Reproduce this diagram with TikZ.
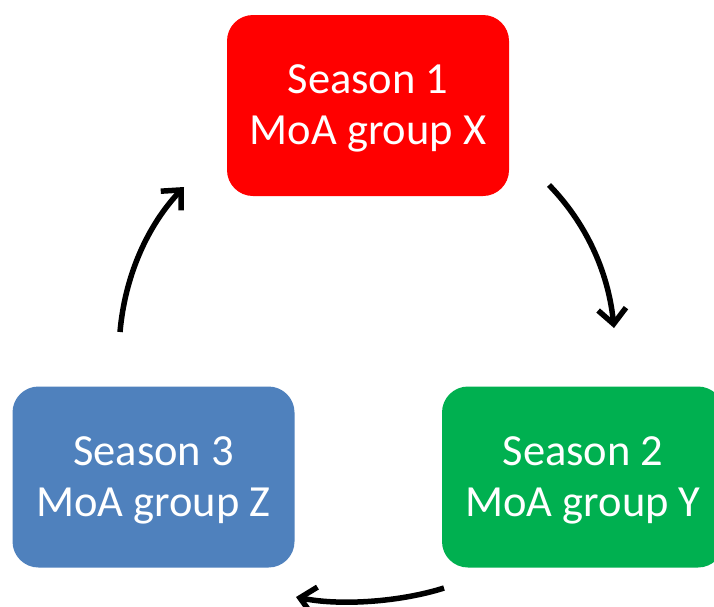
\documentclass[tikz,border=0pt]{standalone}
\usepackage{fontspec}
\setmainfont{Carlito}
\usetikzlibrary{arrows.meta}
\definecolor{boxred}{HTML}{FF0000}
\definecolor{boxgreen}{HTML}{00B050}
\definecolor{boxblue}{HTML}{4F81BD}
\tikzset{
  seasonbox/.style={rounded corners=26pt, minimum width=282pt, minimum height=181pt,
    inner sep=0pt},
  seasontext/.style={inner sep=0pt, text=white, align=center, font=\fontsize{44.5}{51}\selectfont},
  cyclearrow/.style={line width=5.5pt, -{Straight Barb[length=15pt,width=28pt,line width=5.5pt]}}
}
\begin{document}
\begin{tikzpicture}[x=1pt,y=-1pt]
\clip (0,0) rectangle (714,606);
\fill[white] (0,0) rectangle (714,606);
\node[seasonbox, fill=boxred] (s1) at (368,105.5) {};
\node[seasonbox, fill=boxgreen] (s2) at (583,477) {};
\node[seasonbox, fill=boxblue] (s3) at (153.5,477) {};
\node[seasontext] (t1) at ([yshift=-3pt]s1.center) {Season 1\\MoA group X};
\node[seasontext] (t2) at ([yshift=-3pt]s2.center) {Season 2\\MoA group Y};
\node[seasontext] (t3) at ([yshift=-3pt]s3.center) {Season 3\\MoA group Z};
\coordinate (a1s) at (549,185);
\coordinate (a1e) at (614,328);
\coordinate (a2s) at (444,588);
\coordinate (a2e) at (296,597);
\coordinate (a3s) at (120,332);
\coordinate (a3e) at (184,187);
\draw[cyclearrow] (a1s) .. controls (585,222) and (608,270) .. (a1e);
\draw[cyclearrow] (a2s) .. controls (400,602) and (340,606) .. (a2e);
\draw[cyclearrow] (a3s) .. controls (125,275) and (148,225) .. (a3e);
\end{tikzpicture}
\end{document}
